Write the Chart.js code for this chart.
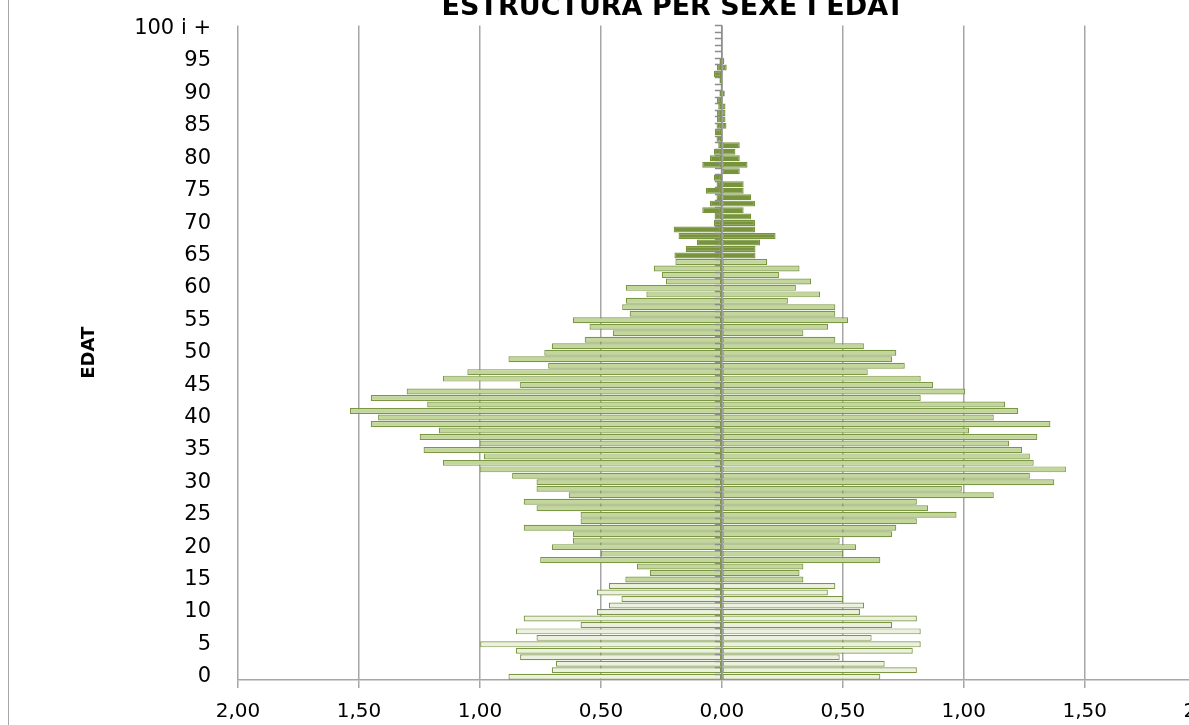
<!DOCTYPE html>
<html>
<head>
<meta charset="utf-8">
<script src="https://cdn.jsdelivr.net/npm/chart.js@4.4.1/dist/chart.umd.min.js"></script>
<style>
  html, body { margin: 0; padding: 0; background: #fff; overflow: hidden; }
  body { width: 1189px; height: 725px; position: relative; }
  #wrap { position: absolute; left: 0; top: -14px; width: 1240px; height: 762px; }
  #vora { position: absolute; left: 8px; top: 0; height: 725px; border-left: 1px solid #a6a6a6; }
</style>
</head>
<body>
<div id="wrap"><canvas id="piramide" width="1240" height="762"></canvas></div>
<div id="vora"></div>
<script>
// Edats 0..100 i +
const edats = []
for (let i = 0; i <= 100; i++) edats.push(i === 100 ? "100 i +" : String(i))

// % homes per edat (costat esquerre)
const homes = [
  0.882, 0.703, 0.686, 0.834, 0.851, 0.999, 0.766, 0.851, 0.584, 0.819,
  0.516, 0.467, 0.415, 0.516, 0.467, 0.399, 0.298, 0.351, 0.751, 0.500,
  0.703, 0.616, 0.616, 0.819, 0.584, 0.584, 0.766, 0.819, 0.633, 0.766,
  0.766, 0.867, 0.999, 1.153, 0.984, 1.233, 0.999, 1.249, 1.170, 1.451,
  1.421, 1.537, 1.218, 1.451, 1.303, 0.834, 1.153, 1.052, 0.718, 0.882,
  0.734, 0.703, 0.567, 0.451, 0.547, 0.616, 0.381, 0.412, 0.397, 0.312,
  0.397, 0.231, 0.248, 0.281, 0.192, 0.196, 0.149, 0.103, 0.179, 0.199,
  0.033, 0.030, 0.081, 0.049, 0.022, 0.066, 0.022, 0.033, 0.005, 0.081,
  0.049, 0.033, 0.015, 0.022, 0.029, 0.022, 0.020, 0.020, 0.015, 0.020,
  0.010, 0.005, 0.010, 0.033, 0.020, 0.010, 0.003, 0, 0, 0,
  0,
]

// % dones per edat (costat dret)
const dones = [
  0.655, 0.806, 0.673, 0.487, 0.789, 0.822, 0.619, 0.822, 0.704, 0.806,
  0.571, 0.588, 0.501, 0.438, 0.469, 0.337, 0.321, 0.337, 0.655, 0.501,
  0.555, 0.487, 0.704, 0.721, 0.806, 0.970, 0.852, 0.806, 1.124, 0.992,
  1.374, 1.273, 1.422, 1.289, 1.273, 1.241, 1.187, 1.304, 1.022, 1.358,
  1.124, 1.225, 1.171, 0.822, 1.006, 0.873, 0.822, 0.603, 0.756, 0.704,
  0.721, 0.587, 0.469, 0.337, 0.439, 0.522, 0.469, 0.469, 0.273, 0.406,
  0.306, 0.369, 0.236, 0.321, 0.187, 0.139, 0.139, 0.158, 0.222, 0.137,
  0.137, 0.121, 0.090, 0.137, 0.121, 0.090, 0.090, 0.005, 0.074, 0.106,
  0.074, 0.056, 0.074, 0, 0.004, 0.019, 0.015, 0.015, 0.015, 0.005,
  0.012, 0.005, 0, 0.005, 0.020, 0.010, 0, 0, 0, 0,
  0,
]

const etiquetesX = ["2,00", "1,50", "1,00", "0,50", "0,00", "0,50", "1,00", "1,50", "2,00"]

// Color segons el grup d'edat: 0-14, 15-64, 65 i més
const colorEdat = (i) => (i < 15 ? "#ebf1de" : i < 65 ? "#c3d69b" : "#77933c")
const colors = edats.map((_, i) => colorEdat(i))
const vores = edats.map((_, i) => (i < 65 ? "#7b9744" : "#77933c"))

// Línia del zero amb marques per a cada edat
const marquesZero = {
  id: "marquesZero",
  afterDatasetsDraw(chart) {
    const { ctx, chartArea, scales } = chart
    const x0 = scales.x.getPixelForValue(0)
    const mig = Math.abs(scales.y.getPixelForValue(1) - scales.y.getPixelForValue(0)) / 2
    ctx.save()
    ctx.strokeStyle = "#8c8c8c"
    ctx.lineWidth = 1.5
    ctx.beginPath()
    ctx.moveTo(x0, chartArea.top)
    ctx.lineTo(x0, chartArea.bottom)
    for (let i = 0; i < edats.length; i++) {
      const yy = Math.round(scales.y.getPixelForValue(i) - mig) + 0.5
      ctx.moveTo(x0 - 7, yy)
      ctx.lineTo(x0, yy)
    }
    ctx.stroke()
    ctx.restore()
  },
}

Chart.defaults.font.family = "'DejaVu Sans', Verdana, sans-serif"
Chart.defaults.color = "#000"

new Chart(document.getElementById("piramide"), {
  type: "bar",
  data: {
    labels: edats,
    datasets: [
      {
        label: "Homes",
        data: homes.map((v) => -v),
        backgroundColor: colors,
        borderColor: vores,
        borderWidth: 1.2,
        borderSkipped: false,
      },
      {
        label: "Dones",
        data: dones,
        backgroundColor: colors,
        borderColor: vores,
        borderWidth: 1.2,
        borderSkipped: false,
      },
    ],
  },
  options: {
    indexAxis: "y",
    responsive: false,
    animation: false,
    // el títol es centra entre el marge esquerre i la vora dreta del gràfic
    layout: { padding: { left: 136, right: 30, top: 0, bottom: 0 } },
    datasets: {
      bar: { barPercentage: 0.92, categoryPercentage: 1 },
    },
    plugins: {
      legend: { display: false },
      tooltip: { enabled: false },
      title: {
        display: true,
        text: "ESTRUCTURA PER SEXE I EDAT",
        font: { size: 27, weight: "bold" },
        padding: { top: 6, bottom: 1 },
      },
    },
    scales: {
      x: {
        type: "linear",
        stacked: true,
        min: -2,
        max: 2,
        ticks: {
          stepSize: 0.5,
          font: { size: 20 },
          padding: 12,
          callback: (v) => etiquetesX[Math.round((v + 2) * 2)],
        },
        grid: { color: "#a6a6a6", lineWidth: 1.5, tickLength: 8 },
        border: { color: "#a6a6a6", width: 1.5 },
        afterFit: (s) => {
          s.height = 68
        },
      },
      y: {
        type: "category",
        stacked: true,
        reverse: true,
        grid: { display: false },
        border: { display: false },
        ticks: {
          autoSkip: false,
          font: { size: 21 },
          padding: 19,
          callback: (v, i) => (i % 5 === 0 ? edats[i] : ""),
        },
        title: {
          display: true,
          text: "EDAT",
          font: { size: 18, weight: "bold" },
          padding: { top: -57, bottom: 0 },
        },
        afterFit: (s) => {
          s.width = 102
        },
      },
    },
  },
  plugins: [marquesZero],
})
</script>
</body>
</html>
